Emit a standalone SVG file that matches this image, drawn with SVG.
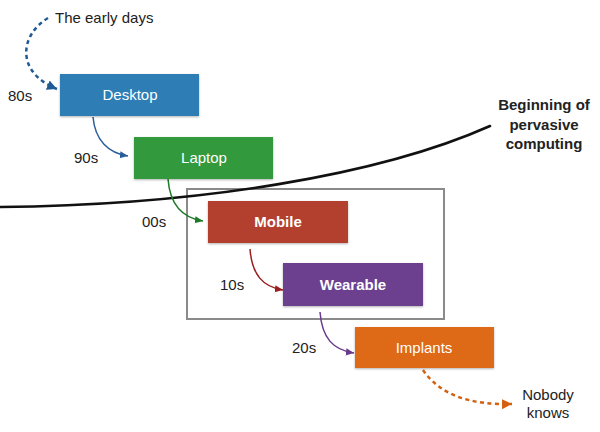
<svg xmlns="http://www.w3.org/2000/svg" width="600" height="432" viewBox="0 0 600 432">
<style>
  .lbl{font-family:"Liberation Sans",Arial,sans-serif;font-size:15px;fill:#222}
  .nt{font-family:"Liberation Sans",Arial,sans-serif;font-size:15px;fill:#fff;text-anchor:middle}
  .b{font-weight:bold}
  .box{stroke:none;filter:url(#sh)}
  .con{fill:none;stroke-width:1.5}
  .dash{fill:none;stroke-width:2.5;stroke-dasharray:4 3.5}
</style>
<defs>
  <filter id="sh" x="-10%" y="-10%" width="120%" height="130%">
    <feDropShadow dx="0" dy="1" stdDeviation="0.8" flood-color="#000" flood-opacity="0.3"/>
  </filter>
  <marker id="mBlueD" markerUnits="userSpaceOnUse" markerWidth="12" markerHeight="12" refX="10" refY="5" orient="auto" viewBox="0 0 12 10"><path d="M0,0 L10,5 L0,10 Z" fill="#1f5a94"/></marker>
  <marker id="mBlue" markerUnits="userSpaceOnUse" markerWidth="9" markerHeight="9" refX="9" refY="4" orient="auto" viewBox="0 0 10 8"><path d="M0,0 L9,4 L0,8 Z" fill="#2a5d9a"/></marker>
  <marker id="mGreen" markerUnits="userSpaceOnUse" markerWidth="9" markerHeight="9" refX="9" refY="4" orient="auto" viewBox="0 0 10 8"><path d="M0,0 L9,4 L0,8 Z" fill="#1e7a28"/></marker>
  <marker id="mRed" markerUnits="userSpaceOnUse" markerWidth="9" markerHeight="9" refX="9" refY="4" orient="auto" viewBox="0 0 10 8"><path d="M0,0 L9,4 L0,8 Z" fill="#9a1e1e"/></marker>
  <marker id="mPurple" markerUnits="userSpaceOnUse" markerWidth="9" markerHeight="9" refX="9" refY="4" orient="auto" viewBox="0 0 10 8"><path d="M0,0 L9,4 L0,8 Z" fill="#6a3a8c"/></marker>
  <marker id="mOrange" markerUnits="userSpaceOnUse" markerWidth="12" markerHeight="12" refX="10" refY="5" orient="auto" viewBox="0 0 12 10"><path d="M0,0 L10,5 L0,10 Z" fill="#d35f0f"/></marker>
</defs>
<rect width="600" height="432" fill="#fff"/>

<g id="era-frame">
  <rect x="187" y="189" width="257" height="130" fill="none" stroke="#8a8a8a" stroke-width="2"/>
</g>

<g id="pervasive-curve">
  <path d="M0,207 C200,205 380,175 490,126" fill="none" stroke="#111" stroke-width="2.6" stroke-linecap="round"/>
  <text class="lbl b" text-anchor="middle" x="544" y="110">Beginning of</text>
  <text class="lbl b" text-anchor="middle" x="544" y="130">pervasive</text>
  <text class="lbl b" text-anchor="middle" x="544" y="149">computing</text>
</g>

<g id="connectors">
  <path class="dash" stroke="#1f5a94" d="M48,18 C20,35 15,72 57,89" marker-end="url(#mBlueD)"/>
  <path class="con" stroke="#2a5d9a" d="M93,117 C95,140 108,153 128,156" marker-end="url(#mBlue)"/>
  <path class="con" stroke="#1e7a28" d="M168,179 C170,205 183,218 203,221" marker-end="url(#mGreen)"/>
  <path class="con" stroke="#9a1e1e" d="M250,249 C252,275 263,287 283,290" marker-end="url(#mRed)"/>
  <path class="con" stroke="#6a3a8c" d="M320,312 C322,338 333,350 354,353" marker-end="url(#mPurple)"/>
  <path class="dash" stroke="#d35f0f" d="M423,370 C440,395 470,405 512,404" marker-end="url(#mOrange)"/>
</g>

<g id="labels">
  <text class="lbl" x="55" y="23">The early days</text>
  <text class="lbl" x="8" y="101">80s</text>
  <text class="lbl" x="74" y="163">90s</text>
  <text class="lbl" x="142" y="227">00s</text>
  <text class="lbl" x="220" y="290">10s</text>
  <text class="lbl" x="292" y="353">20s</text>
  <text class="lbl" text-anchor="middle" x="548" y="400">Nobody</text>
  <text class="lbl" text-anchor="middle" x="548" y="418">knows</text>
</g>

<g id="node-desktop">
  <rect class="box" x="60" y="74" width="139" height="42" fill="#2f7db5"/>
  <text class="nt" x="130" y="100">Desktop</text>
</g>
<g id="node-laptop">
  <rect class="box" x="134" y="137" width="139" height="42" fill="#31993d"/>
  <text class="nt" x="204" y="163">Laptop</text>
</g>
<g id="node-mobile">
  <rect class="box" x="208" y="201" width="140" height="42" fill="#b3412f"/>
  <text class="nt b" x="278" y="227">Mobile</text>
</g>
<g id="node-wearable">
  <rect class="box" x="283" y="263" width="140" height="43" fill="#6c418f"/>
  <text class="nt b" x="353" y="290">Wearable</text>
</g>
<g id="node-implants">
  <rect class="box" x="355" y="327" width="139" height="41" fill="#de6912"/>
  <text class="nt" x="424" y="353">Implants</text>
</g>
</svg>
